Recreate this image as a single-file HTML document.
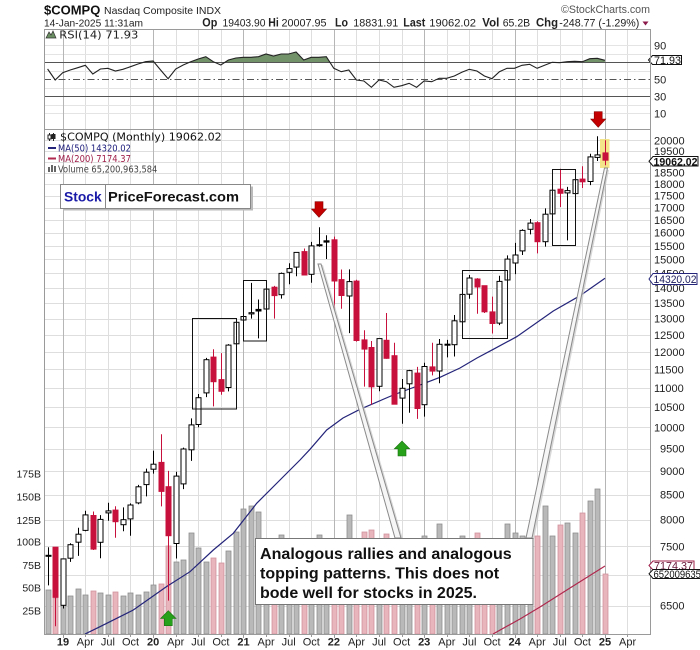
<!DOCTYPE html>
<html><head><meta charset="utf-8">
<style>
html,body{margin:0;padding:0;background:#fff;}
svg{display:block;}
text{font-family:"Liberation Sans",Arial,sans-serif;}
.dv{font-family:"DejaVu Sans","Liberation Sans",sans-serif;}
.vu{fill:#b9b9b9;stroke:#8e8e8e;stroke-width:.8}
.vd{fill:#e8b5bd;stroke:#cf939e;stroke-width:.8}
.bh{fill:#fff;stroke:#000;stroke-width:1}
.bf{fill:#000;stroke:#000;stroke-width:1}
.rf{fill:#c8103c;stroke:#c8103c;stroke-width:1}
</style></head><body>
<svg width="700" height="650" viewBox="0 0 700 650" xmlns="http://www.w3.org/2000/svg">
<defs>
<clipPath id="pc"><rect x="44" y="129.5" width="606" height="504.5"/></clipPath>
<clipPath id="rc"><rect x="44" y="29" width="606" height="33.3"/></clipPath>
<clipPath id="rp"><rect x="44" y="29" width="606" height="100"/></clipPath>
</defs>
<rect x="0" y="0" width="700" height="650" fill="#fff"/>

<!-- header -->
<text x="44" y="14.5" font-size="13" font-weight="bold" fill="#111">$COMPQ</text>
<text x="104" y="14" font-size="10.5" fill="#222" textLength="117" lengthAdjust="spacingAndGlyphs">Nasdaq Composite  INDX</text>
<text x="561" y="13" font-size="11" fill="#555" textLength="89" lengthAdjust="spacingAndGlyphs">©StockCharts.com</text>
<text x="44" y="26.5" font-size="10.5" fill="#222" textLength="99" lengthAdjust="spacingAndGlyphs">14-Jan-2025 11:31am</text>
<g font-size="11" fill="#222">
<text x="202.3" y="26.5" font-weight="bold" font-size="11.5" textLength="15" lengthAdjust="spacingAndGlyphs">Op</text>
<text x="222.5" y="26.5" textLength="43" lengthAdjust="spacingAndGlyphs">19403.90</text>
<text x="268.3" y="26.5" font-weight="bold" font-size="11.5" textLength="10.5" lengthAdjust="spacingAndGlyphs">Hi</text>
<text x="281.5" y="26.5" textLength="45" lengthAdjust="spacingAndGlyphs">20007.95</text>
<text x="335" y="26.5" font-weight="bold" font-size="11.5" textLength="13" lengthAdjust="spacingAndGlyphs">Lo</text>
<text x="353.3" y="26.5" textLength="45" lengthAdjust="spacingAndGlyphs">18831.91</text>
<text x="403.3" y="26.5" font-weight="bold" font-size="11.5" textLength="22" lengthAdjust="spacingAndGlyphs">Last</text>
<text x="429.3" y="26.5" textLength="46.7" lengthAdjust="spacingAndGlyphs">19062.02</text>
<text x="482.3" y="26.5" font-weight="bold" font-size="11.5" textLength="17" lengthAdjust="spacingAndGlyphs">Vol</text>
<text x="502.7" y="26.5" textLength="27.5" lengthAdjust="spacingAndGlyphs">65.2B</text>
<text x="536" y="26.5" font-weight="bold" font-size="11.5" textLength="22" lengthAdjust="spacingAndGlyphs">Chg</text>
<text x="559.3" y="26.5" textLength="80" lengthAdjust="spacingAndGlyphs">-248.77 (-1.29%)</text>
</g>
<polygon points="642.5,21.5 648.5,21.5 645.5,25.5" fill="#8b1a4a"/>

<!-- grid -->
<g stroke="#dedede" stroke-width="1" fill="none">
<path d="M85.5 29V634M108.5 29V634M130.5 29V634M176.5 29V634M198.5 29V634M221.5 29V634M266.5 29V634M289.5 29V634M311.5 29V634M356.5 29V634M379.5 29V634M402.5 29V634M447.5 29V634M469.5 29V634M492.5 29V634M537.5 29V634M560.5 29V634M582.5 29V634M627.5 29V634"/>
<path d="M44 606.5H650M44 575.5H650M44 546.5H650M44 520.5H650M44 495.5H650M44 471.5H650M44 449.5H650M44 427.5H650M44 407.5H650M44 388.5H650M44 369.5H650M44 352.5H650M44 335.5H650M44 319.5H650M44 303.5H650M44 288.5H650M44 273.5H650M44 259.5H650M44 246.5H650M44 233.5H650M44 220.5H650M44 208.5H650M44 196.5H650M44 184.5H650M44 173.5H650M44 162.5H650M44 151.5H650M44 140.5H650"/>
<path stroke="#e4e4e4" d="M44 113.5H650M44 105.5H650M44 88.5H650M44 71.5H650M44 54.5H650M44 45.5H650"/>
<path stroke="#b6b6b6" d="M63.5 29V634M153.5 29V634M243.5 29V634M334.5 29V634M424.5 29V634M515.5 29V634M605.5 29V634"/>
</g>

<!-- RSI panel -->
<g clip-path="url(#rp)">
<g clip-path="url(#rc)"><polygon fill="#72926a" points="47.6,62.3 47.6,69 55.2,80 62.7,72.7 70.2,70 77.8,67.7 85.3,65.3 92.8,74 100.4,69 107.9,68.3 115.4,71 122.9,69.3 130.5,66.7 138,64 145.5,61.7 153.1,61 160.6,70 168.1,78.7 175.7,69 183.2,65 190.7,61.7 198.2,59 205.8,56.7 213.3,61.7 220.8,65 228.4,60 235.9,58 243.4,57.3 251,57.3 258.5,56.7 266,54 273.5,56 281.1,54 288.6,54 296.1,52 303.7,60 311.2,57.3 318.7,57.3 326.3,56.7 333.8,68.3 341.3,71.7 348.8,70 356.4,80 363.9,81 371.4,87.3 379,80 386.5,81.7 394,87.3 401.6,85.7 409.1,83.3 416.6,87.3 424.1,81 431.7,81.7 439.2,78.3 446.7,78.3 454.3,76 461.8,72.3 469.3,69.3 476.9,71 484.4,76 491.9,78.7 499.4,71.7 507,68.3 514.5,68.3 522,65.3 529.6,64.3 537.1,68.3 544.6,65.3 552.2,62.3 559.7,62.7 567.2,61.7 574.7,61.3 582.3,61.7 589.8,58.7 597.3,58.3 604.9,60.3 604.9,62.3"/></g>
<line x1="44" x2="650" y1="62.5" y2="62.5" stroke="#555"/>
<line x1="44" x2="650" y1="79.5" y2="79.5" stroke="#555" stroke-dasharray="7,3,1.5,3"/>
<line x1="44" x2="650" y1="96.5" y2="96.5" stroke="#555"/>
<polyline fill="none" stroke="#222" stroke-width="1.1" points="47.6,69 55.2,80 62.7,72.7 70.2,70 77.8,67.7 85.3,65.3 92.8,74 100.4,69 107.9,68.3 115.4,71 122.9,69.3 130.5,66.7 138,64 145.5,61.7 153.1,61 160.6,70 168.1,78.7 175.7,69 183.2,65 190.7,61.7 198.2,59 205.8,56.7 213.3,61.7 220.8,65 228.4,60 235.9,58 243.4,57.3 251,57.3 258.5,56.7 266,54 273.5,56 281.1,54 288.6,54 296.1,52 303.7,60 311.2,57.3 318.7,57.3 326.3,56.7 333.8,68.3 341.3,71.7 348.8,70 356.4,80 363.9,81 371.4,87.3 379,80 386.5,81.7 394,87.3 401.6,85.7 409.1,83.3 416.6,87.3 424.1,81 431.7,81.7 439.2,78.3 446.7,78.3 454.3,76 461.8,72.3 469.3,69.3 476.9,71 484.4,76 491.9,78.7 499.4,71.7 507,68.3 514.5,68.3 522,65.3 529.6,64.3 537.1,68.3 544.6,65.3 552.2,62.3 559.7,62.7 567.2,61.7 574.7,61.3 582.3,61.7 589.8,58.7 597.3,58.3 604.9,60.3"/>
</g>
<polygon points="46,38 49,32 51,35 53,31 56,38" fill="#6b8e62" stroke="#333" stroke-width="0.7"/>
<text class="dv" x="59.3" y="38.5" font-size="10.5" fill="#222" textLength="79" lengthAdjust="spacingAndGlyphs">RSI(14) 71.93</text>
<g font-size="11" fill="#222">
<text x="654" y="49.3">90</text>
<text x="654" y="83.3">50</text>
<text x="654" y="100.3">30</text>
<text x="654" y="117.3">10</text>
</g>
<polygon points="648.5,60 652.5,55.5 681.5,55.5 681.5,64.5 652.5,64.5" fill="#fff" stroke="#111"/>
<text x="654" y="64" font-size="11" fill="#111" textLength="27" lengthAdjust="spacingAndGlyphs">71.93</text>

<!-- price panel content -->
<g clip-path="url(#pc)">
<!-- volume -->
<g>
<rect class="vu" x="46" y="590" width="5" height="44"/>
<rect class="vd" x="53" y="598" width="5" height="36"/>
<rect class="vu" x="61" y="589" width="5" height="45"/>
<rect class="vu" x="68" y="596" width="5" height="38"/>
<rect class="vu" x="76" y="589" width="5" height="45"/>
<rect class="vu" x="83" y="595" width="5" height="39"/>
<rect class="vd" x="91" y="591" width="5" height="43"/>
<rect class="vu" x="98" y="593" width="5" height="41"/>
<rect class="vu" x="106" y="595" width="5" height="39"/>
<rect class="vd" x="113" y="592" width="5" height="42"/>
<rect class="vu" x="121" y="596" width="5" height="38"/>
<rect class="vu" x="128" y="593" width="5" height="41"/>
<rect class="vu" x="136" y="595" width="5" height="39"/>
<rect class="vu" x="144" y="592" width="5" height="42"/>
<rect class="vu" x="151" y="585" width="5" height="49"/>
<rect class="vd" x="159" y="584" width="5" height="50"/>
<rect class="vd" x="166" y="546" width="5" height="88"/>
<rect class="vu" x="174" y="562" width="5" height="72"/>
<rect class="vu" x="181" y="560" width="5" height="74"/>
<rect class="vu" x="189" y="533" width="5" height="101"/>
<rect class="vu" x="196" y="548" width="5" height="86"/>
<rect class="vu" x="204" y="562" width="5" height="72"/>
<rect class="vd" x="211" y="558" width="5" height="76"/>
<rect class="vd" x="219" y="563" width="5" height="71"/>
<rect class="vu" x="226" y="551" width="5" height="83"/>
<rect class="vu" x="234" y="532" width="5" height="102"/>
<rect class="vu" x="241" y="509" width="5" height="125"/>
<rect class="vu" x="249" y="506" width="5" height="128"/>
<rect class="vu" x="256" y="512" width="5" height="122"/>
<rect class="vu" x="264" y="545" width="5" height="89"/>
<rect class="vd" x="272" y="550" width="5" height="84"/>
<rect class="vu" x="279" y="535" width="5" height="99"/>
<rect class="vu" x="287" y="548" width="5" height="86"/>
<rect class="vu" x="294" y="548" width="5" height="86"/>
<rect class="vd" x="302" y="545" width="5" height="89"/>
<rect class="vu" x="309" y="545" width="5" height="89"/>
<rect class="vu" x="317" y="535" width="5" height="99"/>
<rect class="vu" x="324" y="545" width="5" height="89"/>
<rect class="vd" x="332" y="540" width="5" height="94"/>
<rect class="vd" x="339" y="545" width="5" height="89"/>
<rect class="vu" x="347" y="515" width="5" height="119"/>
<rect class="vd" x="354" y="540" width="5" height="94"/>
<rect class="vd" x="362" y="532" width="5" height="102"/>
<rect class="vd" x="369" y="530" width="5" height="104"/>
<rect class="vu" x="377" y="545" width="5" height="89"/>
<rect class="vd" x="384" y="534" width="5" height="100"/>
<rect class="vd" x="392" y="545" width="5" height="89"/>
<rect class="vu" x="400" y="545" width="5" height="89"/>
<rect class="vu" x="407" y="550" width="5" height="84"/>
<rect class="vd" x="415" y="555" width="5" height="79"/>
<rect class="vu" x="422" y="536" width="5" height="98"/>
<rect class="vd" x="430" y="545" width="5" height="89"/>
<rect class="vu" x="437" y="524" width="5" height="110"/>
<rect class="vu" x="445" y="550" width="5" height="84"/>
<rect class="vu" x="452" y="545" width="5" height="89"/>
<rect class="vu" x="460" y="536" width="5" height="98"/>
<rect class="vu" x="467" y="545" width="5" height="89"/>
<rect class="vd" x="475" y="533" width="5" height="101"/>
<rect class="vd" x="482" y="545" width="5" height="89"/>
<rect class="vd" x="490" y="545" width="5" height="89"/>
<rect class="vu" x="497" y="545" width="5" height="89"/>
<rect class="vu" x="505" y="524" width="5" height="110"/>
<rect class="vu" x="513" y="533" width="5" height="101"/>
<rect class="vu" x="520" y="536" width="5" height="98"/>
<rect class="vu" x="528" y="540" width="5" height="94"/>
<rect class="vd" x="535" y="536" width="5" height="98"/>
<rect class="vu" x="543" y="506" width="5" height="128"/>
<rect class="vu" x="550" y="536" width="5" height="98"/>
<rect class="vd" x="558" y="525" width="5" height="109"/>
<rect class="vu" x="565" y="523" width="5" height="111"/>
<rect class="vu" x="573" y="533" width="5" height="101"/>
<rect class="vd" x="580" y="513" width="5" height="121"/>
<rect class="vu" x="588" y="501" width="5" height="133"/>
<rect class="vu" x="595" y="489" width="5" height="145"/>
<rect class="vd" x="603" y="574" width="5" height="60"/>
</g>
<!-- MAs -->
<polyline fill="none" stroke="#b0284e" stroke-width="1.2" points="493,634 520,619 540,607 570,588 605,566"/>
<polyline fill="none" stroke="#24247a" stroke-width="1.2" points="85,634 100,626.7 133.3,610 166.7,586.5 190,571.7 213.3,550 233.3,533.3 256.7,503.3 280,480 300,460 310,449.3 326.7,430 343,418 360,409.3 393.3,395 420,385 440,377.3 460,368 477,358 493.3,349.3 516.7,336.7 553.3,311 580,295.7 605,278.3"/>
<rect x="600" y="139" width="9.5" height="29" fill="#f3e27e" opacity="0.9"/>
<!-- wicks -->
<path fill="none" stroke="#000" stroke-width="1" d="M48.5 547.2V585.4M63.5 558.9V608.5M70.5 543.2V561.9M78.5 527.7V555.9M85.5 510.8V531.2M100.5 515.1V558.3M108.5 502.7V520.8M123.5 507.4V531.2M130.5 503.4V535.7M138.5 484.9V504.3M146.5 468.6V496.4M153.5 450.7V473.6M176.5 471.8V558.5M183.5 447.6V489.1M191.5 418.4V460.9M198.5 394V427.2M206.5 357.9V397.1M228.5 344.1V391.4M236.5 319.6V345.7M243.5 296.2V327.1M251.5 282.9V318.6M258.5 299.5V338.4M266.5 281.9V309.3M281.5 272.5V298.6M289.5 263.3V284.2M296.5 252.1V276.2M311.5 241.9V282.7M319.5 227.3V246.8M326.5 235.3V259M349.5 269.4V333.1M379.5 343.5V391.2M402.5 379V423.7M409.5 369.9V412.7M424.5 362.7V416.6M439.5 339V383.2M447.5 339.9V357.4M454.5 315V356.5M462.5 293V322.7M469.5 275V298.8M499.5 275.7V325.1M507.5 255.4V282.7M515.5 242.9V274.1M522.5 229.3V255M530.5 219V234.4M545.5 208.4V246.6M552.5 185.5V216.4M567.5 186.9V240.4M575.5 176.5V215.3M590.5 153.7V185.1M597.5 136.2V161"/>
<path fill="none" stroke="#c8103c" stroke-width="1" d="M55.5 547.2V626.2M93.5 511.5V550M115.5 506.3V537.7M161.5 434.2V506.4M168.5 470.9V600.6M213.5 349.3V406.4M221.5 353.1V394.7M274.5 285.9V318.6M304.5 248.5V275.1M334.5 236.6V315.7M341.5 269.5V308.7M356.5 279.8V341.6M364.5 330.2V386.6M371.5 341V404.6M386.5 313V358.7M394.5 342.7V401.6M417.5 366.9V418.9M432.5 342.7V375.4M477.5 278.1V313.7M484.5 285.6V313M492.5 296.6V333.5M537.5 221.3V253.4M560.5 168.8V207M582.5 166.3V188M605.5 140.3V165.3"/>
<!-- bodies -->
<g>
<rect class="bh" x="61" y="558.9" width="5" height="46.4"/>
<rect class="bh" x="68" y="544.7" width="5" height="13.5"/>
<rect class="bh" x="76" y="534.2" width="5" height="8"/>
<rect class="bh" x="83" y="514.9" width="5" height="15.5"/>
<rect class="bh" x="98" y="519.4" width="5" height="22.9"/>
<rect class="bh" x="106" y="510.9" width="5" height="2"/>
<rect class="bh" x="121" y="519.7" width="5" height="5"/>
<rect class="bh" x="128" y="505" width="5" height="13.9"/>
<rect class="bh" x="136" y="486.8" width="5" height="16.1"/>
<rect class="bh" x="144" y="472.2" width="5" height="12.4"/>
<rect class="bh" x="151" y="464.2" width="5" height="5"/>
<rect class="bh" x="174" y="476.1" width="5" height="67.4"/>
<rect class="bh" x="181" y="449" width="5" height="34.9"/>
<rect class="bh" x="189" y="424.9" width="5" height="24.9"/>
<rect class="bh" x="196" y="397.7" width="5" height="26.8"/>
<rect class="bh" x="204" y="359.7" width="5" height="33.2"/>
<rect class="bh" x="226" y="345.1" width="5" height="42.4"/>
<rect class="bh" x="234" y="322.3" width="5" height="21.5"/>
<rect class="bh" x="241" y="316.5" width="5" height="3.5"/>
<rect class="bh" x="249" y="312.7" width="5" height="1.2"/>
<rect class="bh" x="264" y="289.1" width="5" height="19.9"/>
<rect class="bh" x="279" y="273.4" width="5" height="21.3"/>
<rect class="bh" x="287" y="268.6" width="5" height="3.7"/>
<rect class="bh" x="294" y="252.4" width="5" height="14.7"/>
<rect class="bh" x="309" y="245.9" width="5" height="28.4"/>
<rect class="bh" x="347" y="281.6" width="5" height="14.4"/>
<rect class="bh" x="377" y="338.6" width="5" height="47.7"/>
<rect class="bh" x="400" y="388.3" width="5" height="9.8"/>
<rect class="bh" x="407" y="370.6" width="5" height="13.2"/>
<rect class="bh" x="422" y="366.5" width="5" height="38.2"/>
<rect class="bh" x="437" y="344.3" width="5" height="26.7"/>
<rect class="bh" x="445" y="344.2" width="5" height="1"/>
<rect class="bh" x="452" y="320.8" width="5" height="23.9"/>
<rect class="bh" x="460" y="294.4" width="5" height="27.4"/>
<rect class="bh" x="467" y="278" width="5" height="16.2"/>
<rect class="bh" x="497" y="281.4" width="5" height="41.7"/>
<rect class="bh" x="505" y="259.1" width="5" height="20.9"/>
<rect class="bh" x="513" y="255" width="5" height="8"/>
<rect class="bh" x="520" y="230.4" width="5" height="20.5"/>
<rect class="bh" x="528" y="223.1" width="5" height="6.2"/>
<rect class="bh" x="543" y="214.2" width="5" height="27.5"/>
<rect class="bh" x="550" y="190.2" width="5" height="23.7"/>
<rect class="bh" x="565" y="190.6" width="5" height="2.3"/>
<rect class="bh" x="573" y="179.7" width="5" height="13.9"/>
<rect class="bh" x="588" y="156.9" width="5" height="24.6"/>
<rect class="bh" x="595" y="154.9" width="5" height="2.5"/>
<rect class="bf" x="46" y="555.3" width="5" height="1"/>
<rect class="bf" x="256" y="309.4" width="5" height="1.6"/>
<rect class="bf" x="317" y="244.7" width="5" height="1"/>
<rect class="bf" x="324" y="240.8" width="5" height="1.3"/>
<rect class="rf" x="53" y="547.2" width="5" height="50.1"/>
<rect class="rf" x="91" y="515.5" width="5" height="33.6"/>
<rect class="rf" x="113" y="510.1" width="5" height="11.6"/>
<rect class="rf" x="159" y="462.4" width="5" height="29"/>
<rect class="rf" x="166" y="486.7" width="5" height="49"/>
<rect class="rf" x="211" y="357.1" width="5" height="24.6"/>
<rect class="rf" x="219" y="379.6" width="5" height="11.7"/>
<rect class="rf" x="272" y="287.2" width="5" height="8.4"/>
<rect class="rf" x="302" y="251.6" width="5" height="23.4"/>
<rect class="rf" x="332" y="239.8" width="5" height="41.2"/>
<rect class="rf" x="339" y="279.6" width="5" height="15.9"/>
<rect class="rf" x="354" y="281.1" width="5" height="59.4"/>
<rect class="rf" x="362" y="339.9" width="5" height="9.2"/>
<rect class="rf" x="369" y="347.5" width="5" height="39.3"/>
<rect class="rf" x="384" y="340.3" width="5" height="18"/>
<rect class="rf" x="392" y="355.7" width="5" height="48.5"/>
<rect class="rf" x="415" y="373.1" width="5" height="35.4"/>
<rect class="rf" x="430" y="366.9" width="5" height="4.2"/>
<rect class="rf" x="475" y="279" width="5" height="8"/>
<rect class="rf" x="482" y="285.7" width="5" height="26.1"/>
<rect class="rf" x="490" y="311.9" width="5" height="11.6"/>
<rect class="rf" x="535" y="222.7" width="5" height="19"/>
<rect class="rf" x="558" y="189.2" width="5" height="4.1"/>
<rect class="rf" x="580" y="179.1" width="5" height="2.7"/>
<rect class="rf" x="603" y="152.9" width="5" height="7.3"/>
</g>
<!-- boxes -->
<g fill="none" stroke="#111" stroke-width="1">
<rect x="192.5" y="318.5" width="44" height="90.5"/>
<rect x="243.5" y="280.5" width="23" height="60.5"/>
<rect x="462.5" y="270.5" width="45" height="68"/>
<rect x="552.5" y="169.5" width="23" height="76"/>
</g>
<!-- pointers -->
<polygon points="320,265 323,265 403,539 397,539" fill="#c8c8c8" opacity="0.7"/>
<polygon points="318,264 321,264 401,538 395,538" fill="#f6f6f6" stroke="#8a8a8a" stroke-width="1"/>
<polygon points="606,170 609,170 534,539 528,539" fill="#c8c8c8" opacity="0.7"/>
<polygon points="604.5,168 607.5,168 532,538 526,538" fill="#f6f6f6" stroke="#8a8a8a" stroke-width="1"/>
<!-- annotation -->
<rect x="255.5" y="538.5" width="277.5" height="66" fill="#fff" stroke="#777"/>
<g font-size="16" font-weight="bold" fill="#111">
<text x="260" y="559" textLength="251.7" lengthAdjust="spacingAndGlyphs">Analogous rallies and analogous</text>
<text x="260" y="578.5">topping patterns. This does not</text>
<text x="260" y="598">bode well for stocks in 2025.</text>
</g>
<!-- arrows -->
<g fill="#c40000" stroke="#8a0000" stroke-width="0.6">
<polygon points="315,201.7 323,201.7 323,209 326.5,209 319,217.3 311.5,209 315,209"/>
</g>
<g fill="#27a01a" stroke="#1a7010" stroke-width="0.6">
<polygon points="164.3,625.7 172.3,625.7 172.3,618.5 176,618.5 168.3,610.7 160.6,618.5 164.3,618.5"/>
<polygon points="398,456 406,456 406,448.8 409.7,448.8 402,441 394.3,448.8 398,448.8"/>
</g>
</g>
<g fill="#c40000" stroke="#8a0000" stroke-width="0.6">
<polygon points="594.2,111.7 602.2,111.7 602.2,119 605.7,119 598.2,127.3 590.7,119 594.2,119"/>
</g>

<!-- frames -->
<g fill="none" stroke="#9a9a9a" stroke-width="1">
<line x1="44" x2="650" y1="29.5" y2="29.5"/>
<line x1="44" x2="650" y1="129.5" y2="129.5"/>
<line x1="44" x2="650" y1="634.5" y2="634.5"/>
<line x1="44.5" x2="44.5" y1="29" y2="635"/>
<line x1="650.5" x2="650.5" y1="29" y2="635"/>
</g>
<path fill="none" stroke="#999" d="M63.5 634V638M85.5 634V637M108.5 634V637M130.5 634V637M153.5 634V638M176.5 634V637M198.5 634V637M221.5 634V637M243.5 634V638M266.5 634V637M289.5 634V637M311.5 634V637M334.5 634V638M356.5 634V637M379.5 634V637M402.5 634V637M424.5 634V638M447.5 634V637M469.5 634V637M492.5 634V637M515.5 634V638M537.5 634V637M560.5 634V637M582.5 634V637M605.5 634V638M627.5 634V637"/>

<!-- legend -->
<g stroke="#222" stroke-width="1">
<line x1="49.5" x2="49.5" y1="133" y2="141"/><rect x="48" y="135" width="3" height="4" fill="#fff"/>
<line x1="53.5" x2="53.5" y1="133" y2="141"/><rect x="52" y="134.5" width="3" height="4" fill="#222"/>
</g>
<text class="dv" x="60" y="140.5" font-size="11" fill="#111" textLength="161.7" lengthAdjust="spacingAndGlyphs">$COMPQ (Monthly) 19062.02</text>
<line x1="48" x2="56" y1="148" y2="148" stroke="#24247a" stroke-width="2"/>
<text class="dv" x="58" y="151.3" font-size="9.5" fill="#1c1c7c" textLength="73" lengthAdjust="spacingAndGlyphs">MA(50) 14320.02</text>
<line x1="48" x2="56" y1="158.5" y2="158.5" stroke="#b0284e" stroke-width="2"/>
<text class="dv" x="58" y="161.8" font-size="9.5" fill="#a0204a" textLength="73" lengthAdjust="spacingAndGlyphs">MA(200) 7174.37</text>
<g fill="#666"><rect x="48" y="167" width="2" height="5"/><rect x="51" y="165" width="2" height="7"/><rect x="54" y="166" width="2" height="6"/></g>
<text class="dv" x="58" y="172.3" font-size="9.5" fill="#444" textLength="99.3" lengthAdjust="spacingAndGlyphs">Volume 65,200,963,584</text>

<!-- logo box -->
<rect x="63" y="186.5" width="190" height="24" fill="#bbb"/>
<rect x="60.5" y="184.5" width="190" height="24" fill="#fff" stroke="#888"/>
<line x1="105.5" x2="105.5" y1="184.5" y2="208.5" stroke="#888"/>
<text x="64" y="201.5" font-size="14" font-weight="bold" fill="#1a1aa8" textLength="37.7" lengthAdjust="spacingAndGlyphs">Stock</text>
<text x="108" y="201.5" font-size="14" font-weight="bold" fill="#111" textLength="131" lengthAdjust="spacingAndGlyphs">PriceForecast.com</text>

<!-- right axis labels -->
<g font-size="11" fill="#222">
<text x="654" y="144.3">20000</text>
<text x="654" y="154.8">19500</text>
<text x="654" y="176.5">18500</text>
<text x="654" y="187.9">18000</text>
<text x="654" y="199.6">17500</text>
<text x="654" y="211.6">17000</text>
<text x="654" y="223.9">16500</text>
<text x="654" y="236.7">16000</text>
<text x="654" y="249.9">15500</text>
<text x="654" y="263.4">15000</text>
<text x="654" y="277.5">14500</text>
<text x="654" y="292">14000</text>
<text x="654" y="307.1">13500</text>
<text x="654" y="322.7">13000</text>
<text x="654" y="339">12500</text>
<text x="654" y="355.8">12000</text>
<text x="654" y="373.4">11500</text>
<text x="654" y="391.8">11000</text>
<text x="654" y="411.1">10500</text>
<text x="654" y="431.3">10000</text>
<text x="660" y="452.5">9500</text>
<text x="660" y="474.9">9000</text>
<text x="660" y="498.6">8500</text>
<text x="660" y="523.7">8000</text>
<text x="660" y="550.4">7500</text>
<text x="660" y="609.6">6500</text>
</g>
<!-- tags -->
<polygon points="649,161.2 653,156.5 698,156.5 698,166 653,166" fill="#fff" stroke="#111"/>
<text x="653.5" y="165.3" font-size="11" font-weight="bold" fill="#111" textLength="44" lengthAdjust="spacingAndGlyphs">19062.02</text>
<polygon points="649,279 653,273.5 697,273.5 697,284.5 653,284.5" fill="#fff" stroke="#24247a"/>
<text x="653.5" y="283" font-size="11" fill="#1c1c5c" textLength="43" lengthAdjust="spacingAndGlyphs">14320.02</text>
<polygon points="649,565.5 653,561 694,561 694,570 653,570" fill="#fff" stroke="#a0204a"/>
<text x="654" y="569.3" font-size="11" fill="#6a1a3a" textLength="39" lengthAdjust="spacingAndGlyphs">7174.37</text>
<polygon points="649,573.8 653,569.5 712,569.5 712,578.5 653,578.5" fill="#fff" stroke="#111"/>
<text x="653.5" y="577.8" font-size="11" fill="#111" textLength="58" lengthAdjust="spacingAndGlyphs">65200963584</text>

<!-- left volume labels -->
<g font-size="10.5" fill="#222" text-anchor="end">
<text x="41" y="477.3">175B</text>
<text x="41" y="500.7">150B</text>
<text x="41" y="524">125B</text>
<text x="41" y="545.7">100B</text>
<text x="41" y="569">75B</text>
<text x="41" y="591.7">50B</text>
<text x="41" y="614.7">25B</text>
</g>

<!-- bottom axis labels -->
<g font-size="11" fill="#222" text-anchor="middle">
<text x="63" y="645.5" font-weight="bold">19</text>
<text x="85.3" y="645.5">Apr</text>
<text x="107.9" y="645.5">Jul</text>
<text x="130.5" y="645.5">Oct</text>
<text x="153.1" y="645.5" font-weight="bold">20</text>
<text x="175.7" y="645.5">Apr</text>
<text x="198.3" y="645.5">Jul</text>
<text x="220.9" y="645.5">Oct</text>
<text x="243.5" y="645.5" font-weight="bold">21</text>
<text x="266.1" y="645.5">Apr</text>
<text x="288.7" y="645.5">Jul</text>
<text x="311.3" y="645.5">Oct</text>
<text x="333.9" y="645.5" font-weight="bold">22</text>
<text x="356.5" y="645.5">Apr</text>
<text x="379.1" y="645.5">Jul</text>
<text x="401.6" y="645.5">Oct</text>
<text x="424.2" y="645.5" font-weight="bold">23</text>
<text x="446.8" y="645.5">Apr</text>
<text x="469.4" y="645.5">Jul</text>
<text x="492" y="645.5">Oct</text>
<text x="514.6" y="645.5" font-weight="bold">24</text>
<text x="537.2" y="645.5">Apr</text>
<text x="559.8" y="645.5">Jul</text>
<text x="582.4" y="645.5">Oct</text>
<text x="605" y="645.5" font-weight="bold">25</text>
<text x="627.6" y="645.5">Apr</text>
</g>
</svg>
</body></html>
